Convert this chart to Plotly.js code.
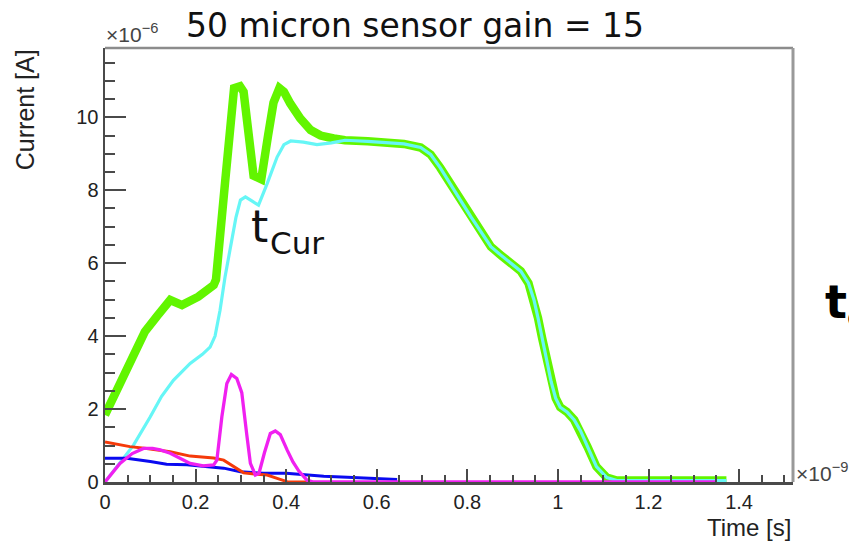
<!DOCTYPE html>
<html>
<head>
<meta charset="utf-8">
<script src="https://cdn.plot.ly/plotly-3.0.1.min.js"></script>
<style>
  html, body { margin: 0; padding: 0; background: #ffffff; }
  #chart { width: 849px; height: 541px; }
</style>
</head>
<body>
<div id="chart"></div>
<script>
// Time in units of 1e-9 s, current in units of 1e-6 A.

// Total current (green), rising part
const totalTime = [0, 0.03, 0.06, 0.088, 0.115, 0.144, 0.17, 0.206, 0.24, 0.245, 0.265, 0.285, 0.298, 0.306, 0.328, 0.345, 0.36, 0.372, 0.385, 0.395, 0.409, 0.431, 0.454, 0.476, 0.505];
const totalCurrent = [1.84, 2.62, 3.4, 4.12, 4.55, 4.99, 4.85, 5.08, 5.4, 5.55, 8.2, 10.8, 10.85, 10.7, 8.4, 8.3, 9.5, 10.4, 10.8, 10.7, 10.38, 9.97, 9.65, 9.5, 9.42];

// Electron current (cyan), rising part
const electronTime = [0, 0.03, 0.063, 0.1, 0.125, 0.151, 0.188, 0.215, 0.232, 0.243, 0.254, 0.265, 0.277, 0.289, 0.299, 0.31, 0.325, 0.339, 0.358, 0.38, 0.395, 0.41, 0.438, 0.468, 0.50];
const electronCurrent = [0, 0.48, 1.01, 1.79, 2.35, 2.79, 3.25, 3.5, 3.7, 4.0, 4.71, 5.62, 6.4, 7.25, 7.73, 7.82, 7.7, 7.59, 8.18, 8.91, 9.25, 9.35, 9.32, 9.25, 9.3];

// Common tail once only electrons remain (total == electrons)
const tailTime = [0.53, 0.58, 0.62, 0.66, 0.697, 0.719, 0.74, 0.763, 0.785, 0.808, 0.83, 0.852, 0.874, 0.896, 0.918, 0.935, 0.947, 0.956, 0.965, 0.975, 0.985, 0.995, 1.005, 1.02, 1.036, 1.05, 1.065, 1.085, 1.108, 1.13, 1.25, 1.372];
const tailCurrent = [9.37, 9.34, 9.31, 9.27, 9.17, 8.98, 8.62, 8.18, 7.72, 7.27, 6.85, 6.45, 6.22, 5.99, 5.78, 5.45, 5.0, 4.5, 3.95, 3.35, 2.75, 2.3, 2.05, 1.92, 1.70, 1.40, 0.97, 0.42, 0.12, 0.04, 0.04, 0.04];

// Hole current (red)
const holeTime = [0, 0.055, 0.092, 0.144, 0.188, 0.24, 0.262, 0.284, 0.306, 0.33, 0.358, 0.38, 0.402, 0.45];
const holeCurrent = [1.1, 0.97, 0.92, 0.83, 0.71, 0.66, 0.6, 0.42, 0.25, 0.22, 0.19, 0.1, 0.01, 0.0];

// Primary electron current (blue)
const primaryTime = [0, 0.048, 0.1, 0.136, 0.181, 0.232, 0.262, 0.299, 0.35, 0.40, 0.446, 0.483, 0.535, 0.579, 0.645];
const primaryCurrent = [0.65, 0.65, 0.56, 0.49, 0.47, 0.42, 0.38, 0.28, 0.24, 0.24, 0.19, 0.16, 0.13, 0.10, 0.07];

// Gain hole current (magenta)
const gainTime = [0, 0.033, 0.06, 0.085, 0.105, 0.122, 0.144, 0.166, 0.188, 0.217, 0.24, 0.247, 0.258, 0.269, 0.279, 0.291, 0.302, 0.313, 0.321, 0.332, 0.34, 0.352, 0.365, 0.376, 0.387, 0.402, 0.415, 0.428, 0.446, 0.46, 1.35];
const gainCurrent = [0, 0.51, 0.78, 0.92, 0.92, 0.88, 0.79, 0.65, 0.51, 0.44, 0.47, 0.6, 1.79, 2.7, 2.95, 2.84, 2.45, 1.3, 0.51, 0.19, 0.24, 0.8, 1.33, 1.4, 1.3, 0.88, 0.55, 0.3, 0.05, 0, 0];

const titleText = '50 micron sensor gain = 15';
const xTitle = 'Time [s]';
const yTitle = 'Current [A]';

const line = (x, y, color, width) => ({
  x, y, type: 'scatter', mode: 'lines',
  line: { color, width, shape: 'linear' },
  hoverinfo: 'skip', showlegend: false
});

const traces = [
  line(totalTime.concat(tailTime), totalCurrent.concat(tailCurrent), '#62f500', 8.5),
  line(electronTime.concat(tailTime), electronCurrent.concat(tailCurrent), '#66f6f6', 3.2),
  line(primaryTime, primaryCurrent, '#0a0af0', 3),
  line(holeTime, holeCurrent, '#f53a0a', 3),
  line(gainTime, gainCurrent, '#f020f0', 3.3)
];

const sans = 'Liberation Sans, Arial, sans-serif';
const tickFont = { family: sans, size: 20, color: '#222222' };

const layout = {
  width: 849, height: 541,
  margin: { l: 105, r: 56, t: 48, b: 59, pad: 0 },
  paper_bgcolor: '#ffffff', plot_bgcolor: '#ffffff',
  showlegend: false,
  title: {
    text: titleText,
    font: { family: 'DejaVu Sans, sans-serif', size: 33, color: '#111111' },
    x: 415 / 849, xanchor: 'center', xref: 'container',
    y: 1 - 25 / 541, yanchor: 'middle', yref: 'container'
  },
  xaxis: {
    range: [0, 1.519], showgrid: false, zeroline: false,
    showline: true, linecolor: '#4a4a4a', linewidth: 2.5,
    ticks: 'inside', ticklen: 13, tickwidth: 2, tickcolor: '#4a4a4a',
    dtick: 0.2, tick0: 0, tickfont: tickFont,
    minor: { ticks: 'inside', dtick: 0.05, ticklen: 7, tickwidth: 2, tickcolor: '#4a4a4a' }
  },
  yaxis: {
    range: [0, 11.9], showgrid: false, zeroline: false,
    showline: true, linecolor: '#4a4a4a', linewidth: 2.5,
    ticks: 'inside', ticklen: 21, tickwidth: 2, tickcolor: '#4a4a4a',
    dtick: 2, tick0: 0, tickfont: tickFont,
    minor: { ticks: 'inside', dtick: 0.5, ticklen: 10, tickwidth: 2, tickcolor: '#4a4a4a' }
  },
  shapes: [
    { type: 'line', xref: 'paper', yref: 'paper', x0: 0, x1: 1, y0: 1, y1: 1, line: { color: '#8c8c8c', width: 2.5 } },
    { type: 'line', xref: 'paper', yref: 'paper', x0: 1, x1: 1, y0: 0, y1: 1, line: { color: '#999999', width: 3 } }
  ],
  annotations: [
    { xref: 'paper', yref: 'paper', x: -0.002, y: 1.0, xanchor: 'left', yanchor: 'bottom', showarrow: false,
      text: '×10<sup>−6</sup>', font: { family: sans, size: 21, color: '#444444' } },
    { xref: 'paper', yref: 'paper', x: 1.002, y: 0.022, xanchor: 'left', yanchor: 'middle', showarrow: false,
      text: '×10<sup>−9</sup>', font: { family: sans, size: 21, color: '#444444' } },
    { xref: 'paper', yref: 'paper', x: 1.0, y: -0.104, xanchor: 'right', yanchor: 'middle', showarrow: false,
      text: xTitle, font: { family: sans, size: 24, color: '#222222' } },
    { xref: 'paper', yref: 'paper', x: -0.1163, y: 1.003, xanchor: 'center', yanchor: 'top', showarrow: false,
      textangle: -90, text: yTitle, font: { family: sans, size: 25, color: '#222222' } },
    { xref: 'x', yref: 'y', x: 0.340, y: 7.0, xanchor: 'center', yanchor: 'middle', showarrow: false,
      text: 't', font: { family: 'DejaVu Sans, sans-serif', size: 44, color: '#111111' } },
    { xref: 'x', yref: 'y', x: 0.360, y: 6.55, xanchor: 'left', yanchor: 'middle', showarrow: false,
      text: 'Cur', font: { family: 'DejaVu Sans, sans-serif', size: 31, color: '#111111' } },
    { xref: 'paper', yref: 'paper', x: (823 - 105) / 688, y: (482 - 305) / 434, xanchor: 'left', yanchor: 'middle', showarrow: false,
      text: '<b>t<sub>c</sub></b>', font: { family: 'DejaVu Sans, sans-serif', size: 46, color: '#000000' } }
  ]
};

Plotly.newPlot('chart', traces, layout, { staticPlot: true, displayModeBar: false });
</script>
</body>
</html>
